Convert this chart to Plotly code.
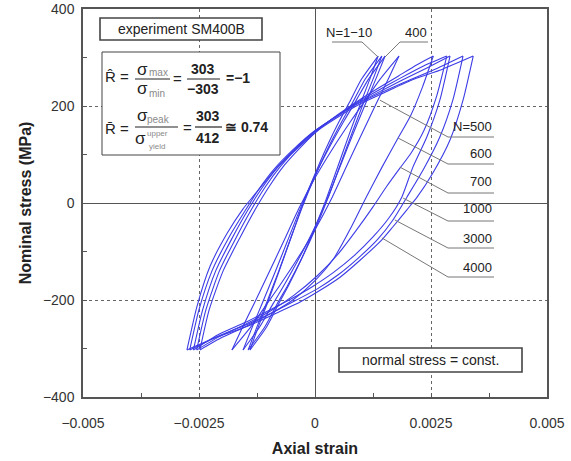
import plotly.graph_objects as go

# ---------------- data (strain in 1e-3, stress in MPa) ----------------
# Wide loops
up_strain_N4000 = [-2.76, -2.54, -2.26, -1.89, -1.55, -1.33, -1.03, -0.79, -0.32, 0.11, 0.54, 0.97, 1.35, 2.05, 2.75, 3.41]
up_stress_N4000 = [-303, -212, -130, -62, -12, 14, 49, 76, 118, 153, 180, 204, 221, 252, 276, 303]
dn_strain_N4000 = [3.41, 3.19, 2.91, 2.54, 2.20, 1.98, 1.68, 1.44, 0.97, 0.54, 0.11, -0.32, -0.70, -1.40, -2.10, -2.76]
dn_stress_N4000 = [303, 212, 130, 62, 12, -14, -49, -76, -118, -153, -180, -204, -221, -252, -276, -303]

up_strain_N3000 = [-2.70, -2.50, -2.22, -1.85, -1.50, -1.20, -0.88, -0.45, -0.02, 0.42, 0.89, 1.30, 1.90, 2.55, 3.19]
up_stress_N3000 = [-303, -220, -140, -70, -15, 30, 70, 112, 148, 176, 203, 222, 248, 274, 303]
dn_strain_N3000 = [3.19, 2.97, 2.69, 2.33, 1.98, 1.68, 1.35, 0.95, 0.50, 0.05, -0.40, -0.80, -1.45, -2.10, -2.70]
dn_stress_N3000 = [303, 212, 136, 68, 12, -35, -75, -112, -148, -177, -200, -220, -250, -275, -303]

up_strain_N1000 = [-2.62, -2.42, -2.14, -1.80, -1.45, -1.15, -0.82, -0.40, 0.02, 0.45, 0.90, 1.30, 1.85, 2.40, 2.91]
up_stress_N1000 = [-303, -220, -140, -75, -15, 30, 72, 115, 150, 178, 205, 225, 252, 278, 303]
dn_strain_N1000 = [2.91, 2.69, 2.41, 2.11, 1.87, 1.60, 1.25, 0.85, 0.40, -0.05, -0.50, -0.90, -1.50, -2.10, -2.62]
dn_stress_N1000 = [303, 212, 136, 74, 12, -30, -70, -108, -143, -172, -197, -217, -246, -272, -303]

up_strain_N700 = [-2.55, -2.35, -2.06, -1.72, -1.38, -1.08, -0.75, -0.34, 0.06, 0.48, 0.92, 1.32, 1.85, 2.35, 2.84]
up_stress_N700 = [-303, -220, -140, -75, -15, 32, 75, 118, 152, 180, 208, 230, 258, 283, 303]
dn_strain_N700 = [2.84, 2.62, 2.35, 2.05, 1.83, 1.55, 1.25, 0.90, 0.50, 0.05, -0.45, -0.95, -1.50, -2.05, -2.55]
dn_stress_N700 = [303, 220, 150, 100, 72, 35, -8, -55, -105, -150, -190, -222, -250, -275, -303]

up_strain_N600 = [-2.48, -2.28, -1.98, -1.62, -1.28, -0.98, -0.66, -0.26, 0.12, 0.52, 0.95, 1.35, 1.80, 2.20, 2.55]
up_stress_N600 = [-303, -220, -140, -72, -12, 35, 78, 120, 155, 184, 212, 236, 262, 285, 303]
dn_strain_N600 = [2.55, 2.32, 2.06, 1.79, 1.45, 1.12, 0.78, 0.40, 0.00, -0.45, -0.95, -1.50, -2.00, -2.48]
dn_stress_N600 = [303, 240, 180, 134, 75, 15, -50, -115, -160, -198, -228, -255, -277, -303]

# Narrow loops
up_strain_N500 = [-1.79, -1.58, -1.30, -1.00, -0.68, -0.34, 0.02, 0.40, 0.78, 1.05, 1.40, 1.81]
up_stress_N500 = [-303, -260, -205, -145, -80, -10, 55, 115, 170, 207, 255, 303]
dn_strain_N500 = [1.81, 1.60, 1.32, 1.02, 0.70, 0.36, 0.00, -0.38, -0.76, -1.03, -1.38, -1.79]
dn_stress_N500 = [303, 260, 205, 145, 80, 10, -55, -115, -170, -207, -255, -303]

up_strain_N400 = [-1.55, -1.37, -1.13, -0.87, -0.60, -0.31, -0.01, 0.31, 0.63, 0.86, 1.15, 1.51]
up_stress_N400 = [-303, -260, -205, -145, -80, -10, 55, 115, 170, 207, 255, 303]
dn_strain_N400 = [1.51, 1.33, 1.09, 0.83, 0.56, 0.27, -0.03, -0.35, -0.67, -0.90, -1.19, -1.55]
dn_stress_N400 = [303, 260, 205, 145, 80, 10, -55, -115, -170, -207, -255, -303]

up_strain_N10 = [-1.44, -1.27, -1.04, -0.80, -0.55, -0.28, 0.00, 0.29, 0.59, 0.81, 1.08, 1.44]
up_stress_N10 = [-303, -260, -205, -145, -80, -10, 55, 115, 170, 207, 255, 303]
dn_strain_N10 = [1.44, 1.27, 1.04, 0.80, 0.55, 0.28, 0.00, -0.29, -0.59, -0.81, -1.08, -1.44]
dn_stress_N10 = [303, 260, 205, 145, 80, 10, -55, -115, -170, -207, -255, -303]

up_strain_N1 = [-1.40, -1.24, -1.02, -0.79, -0.55, -0.29, -0.02, 0.25, 0.53, 0.74, 1.00, 1.36]
up_stress_N1 = [-303, -260, -205, -145, -80, -10, 55, 115, 170, 207, 255, 303]
dn_strain_N1 = [1.36, 1.20, 0.98, 0.75, 0.51, 0.25, -0.02, -0.29, -0.57, -0.78, -1.04, -1.40]
dn_stress_N1 = [303, 260, 205, 145, 80, 10, -55, -115, -170, -207, -255, -303]

x_tickvals = [-0.005, -0.0025, 0, 0.0025, 0.005]
x_ticktext = ["\u22120.005", "\u22120.0025", "0", "0.0025", "0.005"]
y_tickvals = [-400, -200, 0, 200, 400]
y_ticktext = ["\u2212400", "\u2212200", "0", "200", "400"]

# leader labels: text, curve point (strain, stress)
label_texts = ["N=500", "600", "700", "1000", "3000", "4000"]
label_pts_strain = [0.00140, 0.00179, 0.00183, 0.00190, 0.00172, 0.00144]
label_pts_stress = [212, 134, 74, 10, -35, -72]

# ---------------- figure ----------------
LINE = "#3c3ce6"
fig = go.Figure()
branches = [
    (up_strain_N4000, up_stress_N4000), (dn_strain_N4000, dn_stress_N4000),
    (up_strain_N3000, up_stress_N3000), (dn_strain_N3000, dn_stress_N3000),
    (up_strain_N1000, up_stress_N1000), (dn_strain_N1000, dn_stress_N1000),
    (up_strain_N700, up_stress_N700), (dn_strain_N700, dn_stress_N700),
    (up_strain_N600, up_stress_N600), (dn_strain_N600, dn_stress_N600),
    (up_strain_N500, up_stress_N500), (dn_strain_N500, dn_stress_N500),
    (up_strain_N400, up_stress_N400), (dn_strain_N400, dn_stress_N400),
    (up_strain_N10, up_stress_N10), (dn_strain_N10, dn_stress_N10),
    (up_strain_N1, up_stress_N1), (dn_strain_N1, dn_stress_N1),
]
for sx, sy in branches:
    fig.add_trace(go.Scatter(
        x=[v * 1e-3 for v in sx], y=sy, mode="lines",
        line=dict(color=LINE, width=1.1, shape="spline", smoothing=0.6),
        showlegend=False, hoverinfo="skip"))

W, H = 571, 461
L, R, T, B = 83, 24, 9, 64
PW, PH = W - L - R, H - T - B


def PX(px):
    return (px - L) / PW


def PY(py):
    return (H - B - py) / PH


shapes = []
annotations = []
FONT = "Liberation Sans, Arial, sans-serif"
TXT = "#222222"


def box(x0, y0, x1, y1, w=1.3):
    shapes.append(dict(type="rect", xref="paper", yref="paper",
                       x0=PX(x0), x1=PX(x1), y0=PY(y1), y1=PY(y0),
                       line=dict(color="#444444", width=w), fillcolor="white", layer="above"))


def hline(x0, x1, y, color="#222222", w=1.2):
    shapes.append(dict(type="line", xref="paper", yref="paper",
                       x0=PX(x0), x1=PX(x1), y0=PY(y), y1=PY(y),
                       line=dict(color=color, width=w), layer="above"))


def txt(x, y, s, size=13, color=TXT, xanchor="center"):
    annotations.append(dict(xref="paper", yref="paper", x=PX(x), y=PY(y), text=s,
                            showarrow=False, xanchor=xanchor, yanchor="middle",
                            font=dict(family=FONT, size=size, color=color)))


# experiment box
box(100, 18, 262, 40, 1.6)
txt(181, 29, "experiment SM400B", 14)
# formula box
box(102, 52, 280, 155, 1.0)
G = "#8a8a8a"
txt(117, 76, "R\u0302 =", 15)
txt(142, 69, "\u03c3", 17)
txt(158, 73, "max", 10, G)
hline(135, 170, 79)
txt(142, 88, "\u03c3", 17)
txt(157, 93, "min", 10, G)
txt(177, 78, "=", 15)
txt(203, 69, "<b>303</b>", 14)
hline(187, 220, 79)
txt(203, 89, "<b>\u2212303</b>", 14)
txt(238, 78, "<b>=\u22121</b>", 14)

txt(117, 128, "R\u0304 =", 15)
txt(142, 115, "\u03c3", 17)
txt(158, 119, "peak", 10, G)
hline(135, 178, 127)
txt(140, 138, "\u03c3", 17)
txt(157, 133, "upper", 8, G)
txt(157, 146, "yield", 8, G)
txt(187, 127, "=", 15)
txt(208, 116, "<b>303</b>", 14)
hline(195, 222, 127)
txt(208, 138, "<b>412</b>", 14)
txt(246, 127, "<b>\u2245 0.74</b>", 14)

# normal stress box
box(339, 348, 522, 372, 1.6)
txt(430, 360, "normal stress = const.", 14)

# top labels
GL = "#777777"
txt(349, 32, "N=1\u221210", 13)
hline(332, 362, 42, GL, 1)
shapes.append(dict(type="line", xref="paper", yref="paper", x0=PX(362), y0=PY(42),
                   x1=PX(378), y1=PY(57), line=dict(color=GL, width=1), layer="above"))
txt(416, 32, "400", 13)
hline(400, 428, 42, GL, 1)
shapes.append(dict(type="line", xref="paper", yref="paper", x0=PX(400), y0=PY(42),
                   x1=PX(385), y1=PY(57), line=dict(color=GL, width=1), layer="above"))

# right labels with leaders
label_text_y = [126, 153, 181, 209, 238, 267]
label_line_y = [137, 164, 193, 221, 248, 277]
for t, ty, ly, ex, ey in zip(label_texts, label_text_y, label_line_y, label_pts_strain, label_pts_stress):
    txt(494, ty, t, 13, xanchor="right")
    hline(448, 494, ly, GL, 1)
    shapes.append(dict(type="line", xref="x", yref="y", x0=ex, y0=ey,
                       x1=(448 - 315) / 46400, y1=(203 - ly) / 0.485,
                       line=dict(color=GL, width=1), layer="above"))

fig.update_layout(
    width=W, height=H, margin=dict(l=L, r=R, t=T, b=B),
    paper_bgcolor="white", plot_bgcolor="white",
    shapes=shapes, annotations=annotations,
    font=dict(family=FONT, color="#333333"),
)
fig.update_xaxes(
    range=[-0.005, 0.005], tickvals=x_tickvals, ticktext=x_ticktext, automargin=False,
    ticks="inside", ticklen=4, tickcolor="#555", tickfont=dict(size=14, color="#333"),
    ticklabelstandoff=12,
    showgrid=True, gridcolor="#666", griddash="dot", gridwidth=1.2,
    zeroline=True, zerolinecolor="#555", zerolinewidth=1,
    showline=True, linecolor="#555", linewidth=1.5, mirror=True,
    minor=dict(ticks="inside", ticklen=4, tickcolor="#555", dtick=0.00125, showgrid=False),
    title=dict(text="<b>Axial strain</b>", font=dict(size=16, color="#222"), standoff=13),
)
fig.update_yaxes(
    range=[-400, 400], tickvals=y_tickvals, ticktext=y_ticktext, automargin=False,
    ticks="inside", ticklen=4, tickcolor="#555", tickfont=dict(size=14, color="#333"),
    ticklabelstandoff=4,
    showgrid=True, gridcolor="#666", griddash="dot", gridwidth=1.2,
    zeroline=True, zerolinecolor="#555", zerolinewidth=1,
    showline=True, linecolor="#555", linewidth=1.5, mirror=True,
    minor=dict(ticks="inside", ticklen=4, tickcolor="#555", dtick=100, showgrid=False),
    title=dict(text="<b>Nominal stress (MPa)</b>", font=dict(size=16, color="#222"), standoff=7),
)
fig.write_html("out.html")
